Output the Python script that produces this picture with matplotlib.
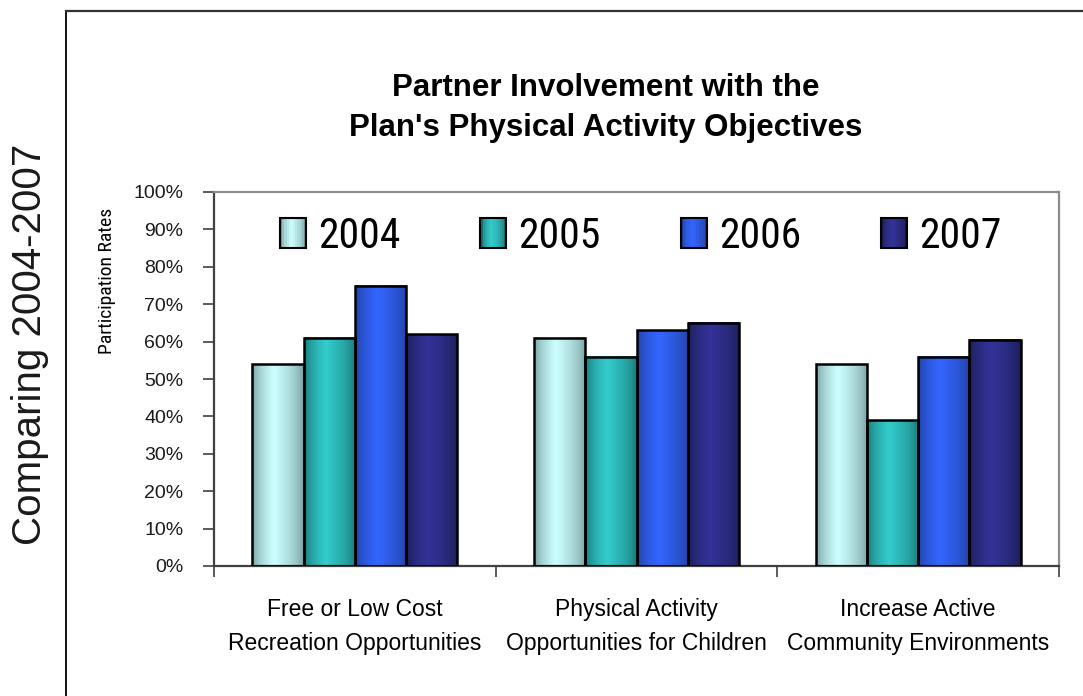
import numpy as np
import matplotlib
matplotlib.use("Agg")
import matplotlib.pyplot as plt
from matplotlib.patches import Rectangle
from matplotlib.lines import Line2D
from matplotlib.legend_handler import HandlerBase
from matplotlib.ticker import PercentFormatter, FixedLocator
from matplotlib import font_manager
from matplotlib.font_manager import FontProperties

# ---------------- data ----------------
categories = ["Free or Low Cost\nRecreation Opportunities",
              "Physical Activity\nOpportunities for Children",
              "Increase Active\nCommunity Environments"]
years = ["2004", "2005", "2006", "2007"]
v2004 = [0.54, 0.61, 0.54]
v2005 = [0.61, 0.56, 0.39]
v2006 = [0.75, 0.63, 0.56]
v2007 = [0.62, 0.65, 0.605]
series = [v2004, v2005, v2006, v2007]
yticks = [0.0, 0.1, 0.2, 0.3, 0.4, 0.5, 0.6, 0.7, 0.8, 0.9, 1.0]

centers = ["#CCFFFF", "#33CCCC", "#3366FF", "#333399"]
edges = ["#6F9494", "#176E6E", "#1F3C96", "#191A4E"]

W, H = 1083, 696
fig = plt.figure(figsize=(W / 100, H / 100), dpi=100)

SANS = "Liberation Sans"

# look for a condensed / narrow regular face
narrow_file = None
prefs = ["liberationsansnarrow-regular", "robotocondensed-regular",
         "dejavusanscondensed.ttf", "opensans_condensed-regular",
         "opensanscondensed-regular", "notosans-condensed.ttf",
         "notosanscondensed-regular", "opensans-condensed"]
files = [f.fname for f in font_manager.fontManager.ttflist]
for p in prefs:
    for fn in files:
        if p in fn.lower().replace(" ", ""):
            narrow_file = fn
            break
    if narrow_file:
        break
if narrow_file is None:
    for f in font_manager.fontManager.ttflist:
        low = (f.name + f.fname).lower()
        if (("condensed" in low or "narrow" in low) and f.weight in (400, "normal")
                and f.style == "normal" and "bold" not in low and "light" not in low):
            narrow_file = f.fname
            break


def nprop(size):
    if narrow_file:
        return FontProperties(fname=narrow_file, size=size)
    return FontProperties(family=SANS, size=size * 0.8)


ax = fig.add_axes([214 / W, 1 - 566 / H, (1059 - 214) / W, (566 - 192) / H])

x = np.arange(len(categories))
bw = 0.182
offs = (np.arange(4) - 1.5) * bw


def grad(c_center, c_edge, n=64):
    cc = np.array(matplotlib.colors.to_rgb(c_center))
    ce = np.array(matplotlib.colors.to_rgb(c_edge))
    t = np.linspace(0, 1, n)
    s = np.where(t < 0.42, t / 0.42, (1 - t) / 0.58)
    f = np.clip(s, 0, 1) ** 0.55
    return ce[None, :] * (1 - f[:, None]) + cc[None, :] * f[:, None]


for i, vals in enumerate(series):
    bars = ax.bar(x + offs[i], vals, width=bw, facecolor="none",
                  edgecolor="black", linewidth=1.8, zorder=3)
    g = grad(centers[i], edges[i])[None, :, :]
    for b in bars:
        bx, by = b.get_x(), b.get_y()
        ax.imshow(g, extent=[bx, bx + b.get_width(), by, by + b.get_height()],
                  aspect="auto", zorder=2, interpolation="bilinear")

ax.set_xlim(-0.5, 2.5)
ax.set_ylim(0, 1)
ax.set_yticks(yticks)
ax.yaxis.set_major_formatter(PercentFormatter(1.0, decimals=0))
ax.tick_params(axis="y", direction="out", length=8, width=1.2, color="#404040",
               labelsize=14, pad=14)
for lab in ax.get_yticklabels():
    lab.set_fontfamily(SANS)
    lab.set_color("#1a1a1a")

ax.set_xticks(x)
ax.set_xticklabels(categories, fontfamily=SANS, fontsize=16.5, linespacing=1.6)
ax.tick_params(axis="x", which="major", length=0, pad=23)
ax.xaxis.set_minor_locator(FixedLocator([-0.5, 0.5, 1.5, 2.5]))
ax.tick_params(axis="x", which="minor", direction="out", length=8, width=1.2,
               color="#404040")

for sp in ["left", "bottom"]:
    ax.spines[sp].set_color("#404040")
    ax.spines[sp].set_linewidth(1.6)
for sp in ["top", "right"]:
    ax.spines[sp].set_color("#8C8C8C")
    ax.spines[sp].set_linewidth(1.6)


class GradHandler(HandlerBase):
    def __init__(self, cc, ce):
        super().__init__()
        self.cc, self.ce = cc, ce

    def create_artists(self, legend, orig_handle, xdescent, ydescent, width,
                       height, fontsize, trans):
        arts = []
        g = grad(self.cc, self.ce, 12)
        n = len(g)
        for k in range(n):
            r = Rectangle((-xdescent + width * k / n, -ydescent), width / n + 0.3,
                          height, facecolor=g[k], edgecolor="none", transform=trans)
            arts.append(r)
        arts.append(Rectangle((-xdescent, -ydescent), width, height,
                              facecolor="none", edgecolor="black", lw=1.5,
                              transform=trans))
        return arts


lprop = nprop(30)
handles = [Rectangle((0, 0), 1, 1) for _ in years]
hmap = {h: GradHandler(centers[i], edges[i]) for i, h in enumerate(handles)}
fs_px = lprop.get_size_in_points() * 100 / 72
leg = ax.legend(handles, years, handler_map=hmap, loc="center",
                bbox_to_anchor=(0.505, 0.882), ncol=4, frameon=False,
                prop=lprop,
                handlelength=26 / fs_px, handleheight=30 / fs_px,
                handletextpad=12 / fs_px,
                columnspacing=80 / fs_px, borderpad=0)

fig.text(606 / W, 1 - 108 / H,
         "Partner Involvement with the\nPlan's Physical Activity Objectives",
         ha="center", va="center", fontfamily=SANS, fontweight="bold",
         fontsize=22.5, linespacing=1.45)

fig.text(107 / W, 1 - 281 / H, "Participation Rates", rotation=90,
         ha="center", va="center", fontproperties=nprop(14))

fig.text(30 / W, 1 - 344 / H, "Comparing 2004-2007", rotation=90,
         ha="center", va="center", fontfamily=SANS, fontsize=29, color="#1a1a1a")

fig.add_artist(Line2D([66 / W, 66 / W], [0, 1 - 11 / H], color="black", lw=1.3,
                      transform=fig.transFigure))
fig.add_artist(Line2D([66 / W, 1], [1 - 11 / H, 1 - 11 / H], color="#333333",
                      lw=1.6, transform=fig.transFigure))

fig.savefig("out.png", dpi=100)
